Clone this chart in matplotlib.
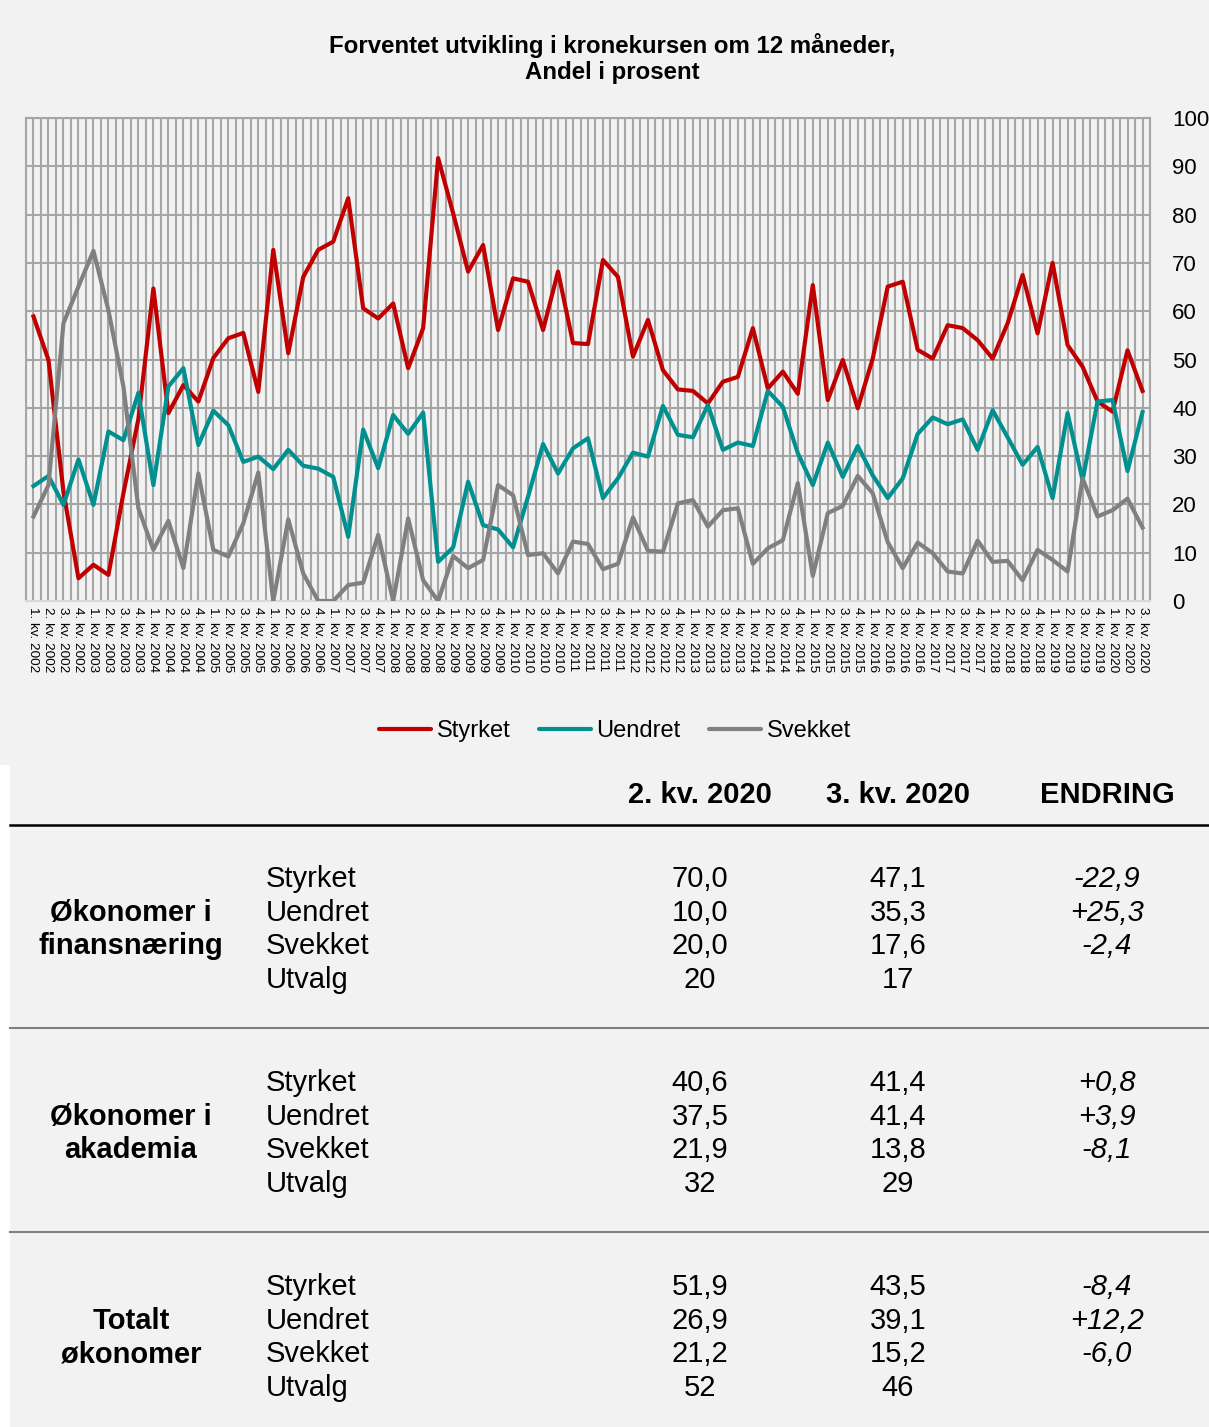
import numpy as np
import matplotlib
matplotlib.use("Agg")
import matplotlib.pyplot as plt
from matplotlib.patches import Rectangle
from matplotlib.lines import Line2D

plt.rcParams['font.family'] = ['Liberation Sans', 'DejaVu Sans']

# quarterly share (%) expecting the krone to strengthen / stay / weaken, 1. kv. 2002 - 3. kv. 2020
styrket = [58.9, 49.9, 22.6, 4.7, 7.5, 5.4, 22.3, 37.7, 64.7, 38.9,
           44.7, 41.3, 50.3, 54.4, 55.5, 43.3, 72.7, 51.3, 67.1, 72.7,
           74.4, 83.4, 60.6, 58.5, 61.6, 48.2, 56.5, 91.7, 80.3, 68.2,
           73.7, 56.1, 66.8, 66.1, 56.1, 68.2, 53.4, 53.2, 70.6, 67.1,
           50.6, 58.2, 47.8, 43.8, 43.5, 40.9, 45.4, 46.4, 56.5, 44.0,
           47.5, 42.9, 65.4, 41.6, 49.9, 39.9, 50.2, 65.1, 66.1, 52.0,
           50.2, 57.1, 56.5, 54.0, 50.2, 57.5, 67.5, 55.4, 70.0, 53.0,
           48.5, 41.3, 39.2, 51.9, 43.5]
uendret = [23.8, 25.9, 19.9, 29.3, 19.9, 35.1, 33.3, 43.1, 24.0, 44.4,
           48.2, 32.3, 39.4, 36.4, 28.8, 29.9, 27.3, 31.3, 28.0, 27.4,
           25.7, 13.3, 35.5, 27.5, 38.5, 34.6, 39.0, 8.1, 11.1, 24.7,
           15.7, 14.8, 11.1, 21.6, 32.5, 26.4, 31.6, 33.7, 21.3, 25.4,
           30.7, 29.9, 40.4, 34.4, 33.9, 40.6, 31.3, 32.8, 32.1, 43.5,
           40.2, 30.6, 24.0, 32.8, 25.7, 32.1, 26.0, 21.3, 25.4, 34.6,
           38.0, 36.6, 37.6, 31.3, 39.5, 33.9, 28.2, 31.9, 21.3, 38.9,
           25.0, 41.3, 41.6, 26.9, 39.1]
svekket = [17.5, 24.0, 57.5, 65.1, 72.5, 60.2, 44.4, 19.2, 10.6, 16.6,
           6.8, 26.4, 10.6, 9.2, 16.1, 26.6, 0.0, 16.9, 5.7, 0.0,
           0.0, 3.3, 3.8, 13.7, 0.0, 17.1, 4.3, 0.0, 9.3, 6.8,
           8.5, 24.0, 21.9, 9.5, 9.9, 5.7, 12.3, 11.8, 6.6, 7.7,
           17.3, 10.4, 10.2, 20.2, 20.9, 15.4, 18.8, 19.2, 7.7, 10.9,
           12.6, 24.4, 5.2, 18.2, 19.7, 25.9, 22.3, 12.2, 6.8, 12.1,
           9.9, 6.1, 5.7, 12.5, 8.1, 8.3, 4.3, 10.6, 8.5, 6.1,
           25.4, 17.5, 18.8, 21.2, 15.2]
quarters = ["%d. kv. %d" % (q, y) for y in range(2002, 2021) for q in range(1, 5)][:len(styrket)]

# table below the chart
col_heads = ["2. kv. 2020", "3. kv. 2020", "ENDRING"]
row_names = ["Styrket", "Uendret", "Svekket", "Utvalg"]
groups = [["Økonomer i", "finansnæring"], ["Økonomer i", "akademia"], ["Totalt", "økonomer"]]
q2_vals = [["70,0", "10,0", "20,0", "20"],
           ["40,6", "37,5", "21,9", "32"],
           ["51,9", "26,9", "21,2", "52"]]
q3_vals = [["47,1", "35,3", "17,6", "17"],
           ["41,4", "41,4", "13,8", "29"],
           ["43,5", "39,1", "15,2", "46"]]
endring = [["-22,9", "+25,3", "-2,4", ""],
           ["+0,8", "+3,9", "-8,1", ""],
           ["-8,4", "+12,2", "-6,0", ""]]

W, H = 1209, 1427
BG = '#F2F2F2'
RED, TEAL, GREY = '#C00000', '#00908F', '#808080'


def fx(x):
    return x / W


def fy(y):
    return 1 - y / H


fig = plt.figure(figsize=(W / 100, H / 100), dpi=100, facecolor=BG)
fig.patches.append(Rectangle((0, 0), fx(10), fy(765), transform=fig.transFigure,
                             facecolor='white', edgecolor='none', zorder=0))

ax = fig.add_axes([fx(26), fy(601), fx(1150) - fx(26), fy(118) - fy(601)])
ax.set_facecolor(BG)
x = np.arange(len(styrket))
ax.plot(x, styrket, color=RED, lw=3, solid_joinstyle='round', label='Styrket', zorder=3)
ax.plot(x, uendret, color=TEAL, lw=3, solid_joinstyle='round', label='Uendret', zorder=3)
ax.plot(x, svekket, color=GREY, lw=3, solid_joinstyle='round', label='Svekket', zorder=3)

ax.set_xlim(-0.5, len(styrket) - 0.5)
ax.set_ylim(0, 100)
ax.set_yticks(range(0, 101, 10))
ax.set_xticks(x)
ax.set_xticks(np.arange(-0.5, len(styrket), 1), minor=True)
ax.set_xticklabels(quarters, rotation=270, fontsize=9.7, va='top', ha='center')
ax.yaxis.tick_right()
ax.tick_params(axis='y', length=0, pad=16, labelsize=16)
ax.tick_params(axis='x', which='both', length=0, pad=4)
ax.grid(True, which='both', color='#A6A6A6', lw=1.5)
ax.set_axisbelow(True)
for s in ax.spines.values():
    s.set_color('#A6A6A6')
    s.set_linewidth(1.5)
ax.spines['bottom'].set_color('#D9D9D9')

fig.text(fx(612), fy(46), "Forventet utvikling i kronekursen om 12 måneder,",
         fontsize=17.3, fontweight='bold', ha='center', va='center')
fig.text(fx(612), fy(73), "Andel i prosent",
         fontsize=17.3, fontweight='bold', ha='center', va='center')

handles = [Line2D([], [], color=c, lw=3, solid_capstyle='round') for c in (RED, TEAL, GREY)]
fig.legend(handles, ['Styrket', 'Uendret', 'Svekket'], loc='center',
           bbox_to_anchor=(fx(615), fy(731)), ncol=3, frameon=False, fontsize=17,
           handlelength=2.2, handletextpad=0.25, columnspacing=1.2)

# table
col_x = [700, 898, 1107]
for cx, head in zip(col_x, col_heads):
    fig.text(fx(cx), fy(795), head, fontsize=21, fontweight='bold', ha='center', va='center')
fig.add_artist(Line2D([fx(10), 1], [fy(825), fy(825)], color='black', lw=1.8))

group_top = [879, 1083, 1287]
step = 33.7
for g, top in enumerate(group_top):
    fig.text(fx(131), fy(top + step), groups[g][0], fontsize=21, fontweight='bold',
             ha='center', va='center')
    fig.text(fx(131), fy(top + 2 * step), groups[g][1], fontsize=21, fontweight='bold',
             ha='center', va='center')
    for r, name in enumerate(row_names):
        yy = fy(top + r * step)
        fig.text(fx(266), yy, name, fontsize=21, ha='left', va='center')
        fig.text(fx(col_x[0]), yy, q2_vals[g][r], fontsize=21, ha='center', va='center')
        fig.text(fx(col_x[1]), yy, q3_vals[g][r], fontsize=21, ha='center', va='center')
        fig.text(fx(col_x[2]), yy, endring[g][r], fontsize=21, style='italic',
                 ha='center', va='center')
    if g < 2:
        ly = fy(top + 149)
        fig.add_artist(Line2D([fx(10), 1], [ly, ly], color='#808080', lw=1.5))

fig.savefig('out.png', dpi=100, facecolor=BG)
